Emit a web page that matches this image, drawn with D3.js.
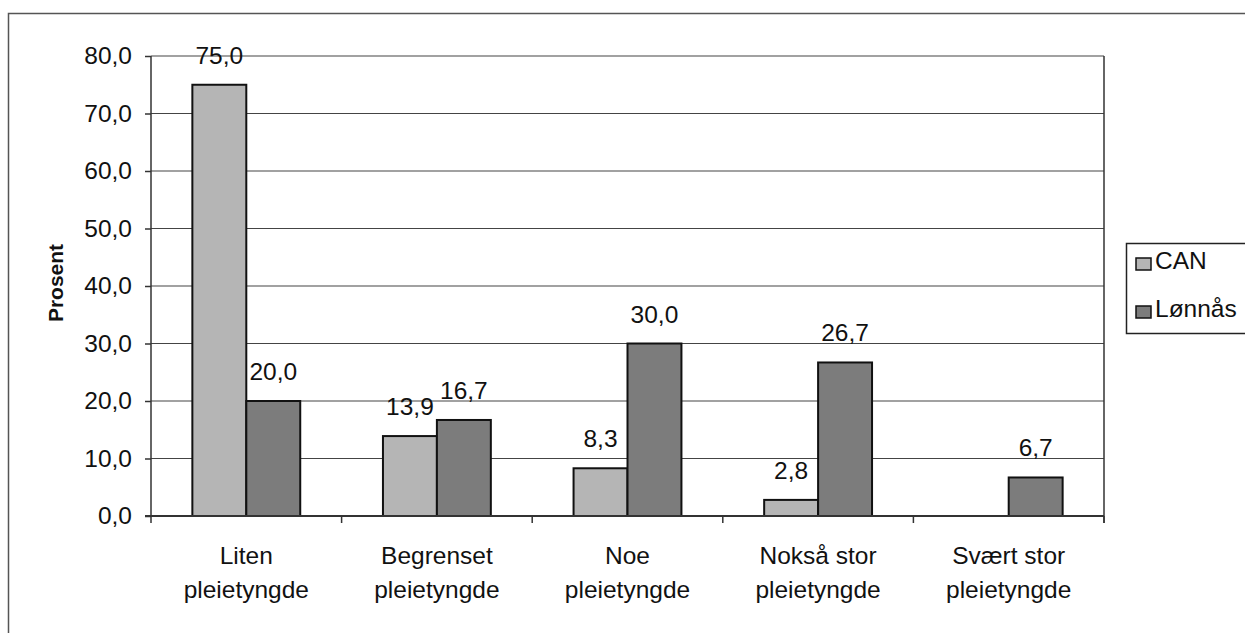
<!DOCTYPE html>
<html>
<head>
<meta charset="utf-8">
<script src="https://cdn.jsdelivr.net/npm/d3@7"></script>
<style>
  body { margin: 0; background: #fff; }
  svg text { font-family: "Liberation Sans", Arial, sans-serif; fill: #111; }
</style>
</head>
<body>
<div id="chart"></div>
<script>
const categories = [["Liten", "pleietyngde"], ["Begrenset", "pleietyngde"], ["Noe", "pleietyngde"], ["Nokså stor", "pleietyngde"], ["Svært stor", "pleietyngde"]];
const seriesNames = ["CAN", "Lønnås"];
const canValues = [75.0, 13.9, 8.3, 2.8, null];
const lonnasValues = [20.0, 16.7, 30.0, 26.7, 6.7];
const yTicks = [0, 10, 20, 30, 40, 50, 60, 70, 80];

const width = 1245, height = 633;
const plot = { left: 151, right: 1104, top: 56, bottom: 516 };
const colors = { "CAN": "#b5b5b5", "Lønnås": "#7c7c7c" };
const fs = 24.5;
const fmt = v => v.toFixed(1).replace(".", ",");

const svg = d3.select("#chart").append("svg").attr("width", width).attr("height", height);

// outer frame (runs off right and bottom edge)
svg.append("rect").attr("x", 8.5).attr("y", 13.5).attr("width", 1300).attr("height", 700)
  .attr("fill", "none").attr("stroke", "#555").attr("stroke-width", 1.5);

const keys = categories.map(c => c.join(" "));
const x0 = d3.scaleBand().domain(keys).range([plot.left, plot.right]).padding(0);
const bw = x0.bandwidth();
const x1 = d3.scaleBand().domain(seriesNames).range([bw * 0.217, bw * 0.783]).padding(0);
const y = d3.scaleLinear().domain([0, 80]).range([plot.bottom, plot.top]);

// gridlines
svg.append("g").selectAll("line").data(yTicks.filter(t => t > 0)).join("line")
  .attr("x1", plot.left).attr("x2", plot.right)
  .attr("y1", d => y(d)).attr("y2", d => y(d))
  .attr("stroke", "#444").attr("stroke-width", 1.2);

// right border of plot area
svg.append("line").attr("x1", plot.right).attr("x2", plot.right).attr("y1", plot.top).attr("y2", plot.bottom + 7)
  .attr("stroke", "#333").attr("stroke-width", 1.5);

const data = keys.map((k, i) => ({ key: k, vals: [
  { s: "CAN", v: canValues[i] },
  { s: "Lønnås", v: lonnasValues[i] }
]}));

const groups = svg.append("g").selectAll("g").data(data).join("g")
  .attr("transform", d => `translate(${x0(d.key)},0)`);

groups.selectAll("rect").data(d => d.vals.filter(e => e.v != null)).join("rect")
  .attr("x", d => x1(d.s))
  .attr("y", d => y(d.v))
  .attr("width", x1.bandwidth())
  .attr("height", d => y(0) - y(d.v))
  .attr("fill", d => colors[d.s])
  .attr("stroke", "#111").attr("stroke-width", 2);

groups.selectAll("text.val").data(d => d.vals.filter(e => e.v != null)).join("text")
  .attr("class", "val")
  .attr("x", d => x1(d.s) + x1.bandwidth() / 2)
  .attr("y", d => y(d.v) - 21)
  .attr("text-anchor", "middle")
  .attr("font-size", fs)
  .text(d => fmt(d.v));

// y axis
const yAxis = svg.append("g").attr("transform", `translate(${plot.left},0)`)
  .call(d3.axisLeft(y).tickValues(yTicks).tickFormat(fmt).tickSize(6).tickPadding(13));
yAxis.select(".domain").attr("stroke", "#333").attr("stroke-width", 1.5).attr("d", `M-0,${plot.bottom}V${plot.top}`);
yAxis.selectAll(".tick line").attr("stroke", "#333").attr("stroke-width", 1.5);
yAxis.selectAll(".tick text").attr("font-size", fs).attr("fill", "#111")
  .attr("font-family", "'Liberation Sans', Arial, sans-serif");

// x axis
const xAxisG = svg.append("g").attr("transform", `translate(0,${plot.bottom})`);
xAxisG.append("line").attr("x1", plot.left - 6).attr("x2", plot.right)
  .attr("stroke", "#333").attr("stroke-width", 2);
xAxisG.selectAll("line.tk").data(keys.concat(["end"])).join("line").attr("class", "tk")
  .attr("x1", (d, i) => plot.left + i * bw).attr("x2", (d, i) => plot.left + i * bw)
  .attr("y1", 0).attr("y2", 7).attr("stroke", "#333").attr("stroke-width", 1.5);

const xl = svg.append("g").selectAll("text").data(categories).join("text")
  .attr("text-anchor", "middle")
  .attr("font-size", fs)
  .attr("x", (d, i) => x0(keys[i]) + bw / 2);
xl.append("tspan").attr("x", (d, i) => x0(keys[i]) + bw / 2).attr("y", 564).text(d => d[0]);
xl.append("tspan").attr("x", (d, i) => x0(keys[i]) + bw / 2).attr("y", 598).text(d => d[1]);

// y title
svg.append("text").attr("transform", `translate(63,${(plot.top + plot.bottom) / 2 - 3}) rotate(-90)`)
  .attr("text-anchor", "middle").attr("font-size", 21).attr("font-weight", "bold").text("Prosent");

// legend
const lg = svg.append("g").attr("transform", "translate(1126,243)");
lg.append("rect").attr("x", 0.5).attr("y", 0.5).attr("width", 200).attr("height", 90)
  .attr("fill", "#fff").attr("stroke", "#222").attr("stroke-width", 1.5);
const li = lg.selectAll("g").data(seriesNames).join("g")
  .attr("transform", (d, i) => `translate(10,${15 + i * 48})`);
li.append("rect").attr("width", 15).attr("height", 12)
  .attr("fill", d => colors[d]).attr("stroke", "#111").attr("stroke-width", 1.5);
li.append("text").attr("x", 19).attr("y", 11).attr("font-size", fs).text(d => d);
</script>
</body>
</html>
